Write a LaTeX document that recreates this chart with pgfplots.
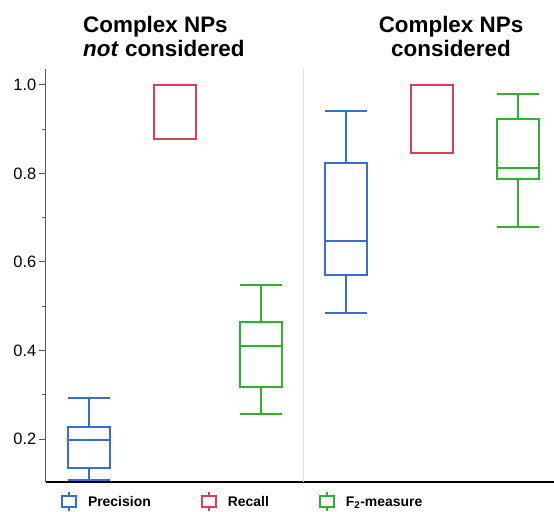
\documentclass[border=0pt]{standalone}
\usepackage{fontspec}
\setmainfont{Liberation Sans}
\usepackage{pgfplots}
\pgfplotsset{compat=1.18}
\usepgfplotslibrary{statistics}
\definecolor{bpblue}{RGB}{61,108,207}
\definecolor{bpred}{RGB}{212,67,90}
\definecolor{bpgreen}{RGB}{48,178,48}
\begin{document}
\begin{tikzpicture}
\useasboundingbox (0bp,0bp) rectangle (554bp,512bp);
\begin{axis}[
  at={(45.5bp,30bp)}, anchor=south west,
  scale only axis, width=508.5bp, height=413bp,
  xmin=-0.507, xmax=5.42, ymin=0.103, ymax=1.036,
  clip=false,
  axis x line=bottom, axis y line=left,
  x axis line style={-, black, line width=1.2bp},
  y axis line style={-, black!65, line width=1.2bp},
  xtick=\empty,
  ytick={0.2,0.4,0.6,0.8,1.0},
  minor ytick={0.3,0.5,0.7,0.9},
  tick align=outside,
  major tick length=6bp, minor tick length=3bp,
  every tick/.style={black!65, line width=1bp},
  yticklabel style={/pgf/number format/fixed, /pgf/number format/fixed zerofill,
    /pgf/number format/precision=1, /pgf/number format/assume math mode=true,
    font=\fontsize{16.5}{18}\selectfont, inner sep=0pt, xshift=-3bp},
  boxplot/draw direction=y,
  boxplot/box extend=0.49,
  boxplot/whisker extend=0.49,
  legend image code/.code={\draw[#1] (7bp,-9.5bp) -- (7bp,-5.5bp) (0bp,-5.5bp) rectangle (14bp,5.5bp) (7bp,5.5bp) -- (7bp,9.5bp);},
  legend style={at={(axis description cs:0.0305,-0.0484)}, anchor=west,
    draw=none, fill=none, inner sep=0pt, outer sep=0pt,
    nodes={inner sep=0pt}, font=\fontsize{14}{16}\selectfont\bfseries,
    /tikz/every odd column/.append style={column sep=11bp},
    /tikz/every even column/.append style={column sep=50bp}},
  legend columns=3,
]
\addplot[forget plot, black!13, line width=1bp] coordinates {(2.5,0.103) (2.5,1.036)};
% Complex NPs not considered
\addplot[forget plot, bpblue, line width=2bp, boxplot prepared={draw direction=y, draw position=0,
  lower whisker=0.108, lower quartile=0.135, median=0.198, upper quartile=0.228, upper whisker=0.293}] coordinates {};
\addplot[forget plot, bpred, line width=2bp, boxplot prepared={draw direction=y, draw position=1,
  lower whisker=0.877, lower quartile=0.877, median=1.0, upper quartile=1.0, upper whisker=1.0}] coordinates {};
\addplot[forget plot, bpgreen, line width=2bp, boxplot prepared={draw direction=y, draw position=2,
  lower whisker=0.257, lower quartile=0.318, median=0.410, upper quartile=0.465, upper whisker=0.549}] coordinates {};
% Complex NPs considered
\addplot[forget plot, bpblue, line width=2bp, boxplot prepared={draw direction=y, draw position=3,
  lower whisker=0.484, lower quartile=0.570, median=0.647, upper quartile=0.824, upper whisker=0.941}] coordinates {};
\addplot[forget plot, bpred, line width=2bp, boxplot prepared={draw direction=y, draw position=4,
  lower whisker=0.847, lower quartile=0.847, median=1.0, upper quartile=1.0, upper whisker=1.0}] coordinates {};
\addplot[forget plot, bpgreen, line width=2bp, boxplot prepared={draw direction=y, draw position=5,
  lower whisker=0.678, lower quartile=0.787, median=0.812, upper quartile=0.922, upper whisker=0.979}] coordinates {};
\addlegendimage{bpblue, line width=2bp}
\addlegendentry{Precision}
\addlegendimage{bpred, line width=2bp}
\addlegendentry{Recall}
\addlegendimage{bpgreen, line width=2bp}
\addlegendentry{F\textsubscript{2}-measure}
\end{axis}
\begin{scope}[every node/.style={inner sep=0pt, font=\fontsize{22.5}{24}\selectfont\bfseries}]
\node[anchor=base west] at (83bp,479bp) {Complex NPs};
\node[anchor=base west] at (83bp,455bp) {\textit{not} considered};
\node[anchor=base] at (451bp,479bp) {Complex NPs};
\node[anchor=base] at (451bp,455bp) {considered};
\end{scope}
\end{tikzpicture}
\end{document}
